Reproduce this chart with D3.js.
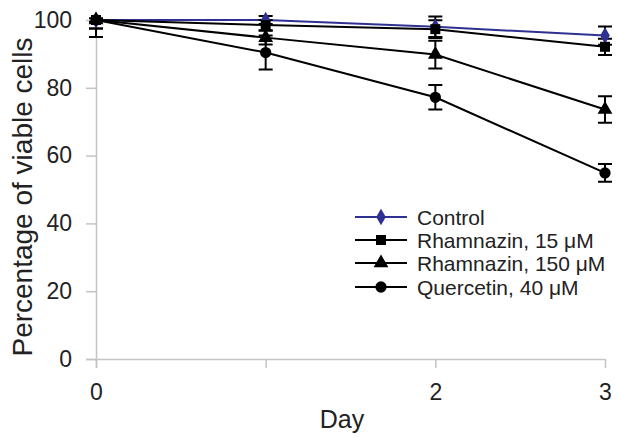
<!DOCTYPE html>
<html><head><meta charset="utf-8">
<script src="https://cdn.jsdelivr.net/npm/d3@7"></script>
<style>body{margin:0;background:#fff;} text{font-family:"Liberation Sans",Arial,sans-serif;}</style>
</head><body><svg id="c" width="620" height="438"></svg>
<script>
const days = [0, 1, 2, 3];
const xTickLabels = ["0", "", "2", "3"];
const yTicks = [0, 20, 40, 60, 80, 100];
const seriesNames = ["Control", "Rhamnazin, 15 μM", "Rhamnazin, 150 μM", "Quercetin, 40 μM"];
const controlVals = [100, 100, 98, 95.4];
const controlErr = [0.5, 1.2, 3, 2.7];
const rh15Vals = [100, 98.5, 97.3, 92.1];
const rh15Err = [2.5, 1.5, 2.6, 2.4];
const rh150Vals = [100, 94.8, 89.8, 73.6];
const rh150Err = [2.5, 2, 4.1, 3.9];
const querVals = [100, 90.4, 77.2, 54.9];
const querErr = [5, 5, 3.6, 2.6];
const colors = ["#2e3192", "#000", "#000", "#000"];
const shapes = [d3.symbolDiamond, d3.symbolSquare, d3.symbolTriangle, d3.symbolCircle];
const sizes = [80, 100, 95, 100];

const series = [
  {vals: controlVals, err: controlErr},
  {vals: rh15Vals, err: rh15Err},
  {vals: rh150Vals, err: rh150Err},
  {vals: querVals, err: querErr}
];

const svg = d3.select("#c");
const x = d3.scaleLinear().domain([0, 3]).range([96, 605]);
const y = d3.scaleLinear().domain([0, 100]).range([359, 20]);
const axisColor = "#c4c4c4";

svg.append("defs").append("clipPath").attr("id", "clip")
  .append("rect").attr("x", 0).attr("y", 14.5).attr("width", 620).attr("height", 420);

const xAxis = svg.append("g").attr("transform", "translate(0,359)")
  .call(d3.axisBottom(x).tickValues(days).tickFormat((d, i) => xTickLabels[i]).tickSize(9).tickSizeOuter(0));
xAxis.select(".domain").attr("stroke", axisColor).attr("stroke-width", 1.5).attr("d", "M86,0.5H605");
xAxis.selectAll(".tick line").attr("stroke", axisColor).attr("stroke-width", 1.5);
xAxis.selectAll(".tick text").attr("fill", "#222").attr("font-size", 23).attr("dy", null).attr("y", 41);

const yAxis = svg.append("g").attr("transform", "translate(96,0)")
  .call(d3.axisLeft(y).tickValues(yTicks).tickSize(10).tickSizeOuter(0));
yAxis.select(".domain").attr("stroke", axisColor).attr("stroke-width", 1.5).attr("d", "M0.5,368V20");
yAxis.selectAll(".tick line").attr("stroke", axisColor).attr("stroke-width", 1.5);
yAxis.selectAll(".tick text").attr("fill", "#222").attr("font-size", 23).attr("x", -24);

svg.append("text").attr("x", 342).attr("y", 428).attr("text-anchor", "middle")
  .attr("font-size", 25).attr("fill", "#222").text("Day");
svg.append("text").attr("transform", "translate(32,197) rotate(-90)").attr("text-anchor", "middle")
  .attr("font-size", 28).attr("fill", "#222").text("Percentage of viable cells");

const line = d3.line().x((d, i) => x(days[i])).y(d => y(d));

series.forEach((s, k) => {
  const g = svg.append("g").attr("clip-path", "url(#clip)");
  g.append("path").attr("d", line(s.vals)).attr("fill", "none").attr("stroke", colors[k]).attr("stroke-width", 2);
  s.vals.forEach((v, i) => {
    const cx = x(days[i]);
    const yt = y(v + s.err[i]), yb = y(v - s.err[i]);
    g.append("line").attr("x1", cx).attr("x2", cx).attr("y1", yt).attr("y2", yb).attr("stroke", "#000").attr("stroke-width", 2);
    [yt, yb].forEach(yy => g.append("line").attr("x1", cx - 7).attr("x2", cx + 7).attr("y1", yy).attr("y2", yy).attr("stroke", "#000").attr("stroke-width", 2));
  });
});
series.forEach((s, k) => {
  s.vals.forEach((v, i) => {
    svg.append("path").attr("d", d3.symbol().type(shapes[k]).size(sizes[k])())
      .attr("transform", `translate(${x(days[i])},${y(v)})`).attr("fill", colors[k]);
  });
});

const legY = [217, 240, 263, 287];
seriesNames.forEach((n, k) => {
  svg.append("line").attr("x1", 355).attr("x2", 407).attr("y1", legY[k]).attr("y2", legY[k]).attr("stroke", colors[k]).attr("stroke-width", 2);
  svg.append("path").attr("d", d3.symbol().type(shapes[k]).size(sizes[k])())
    .attr("transform", `translate(381,${legY[k]})`).attr("fill", colors[k]);
  svg.append("text").attr("x", 417).attr("y", legY[k] + 1).attr("dy", "0.35em").attr("font-size", 21).attr("fill", "#222").text(n);
});
</script></body></html>
